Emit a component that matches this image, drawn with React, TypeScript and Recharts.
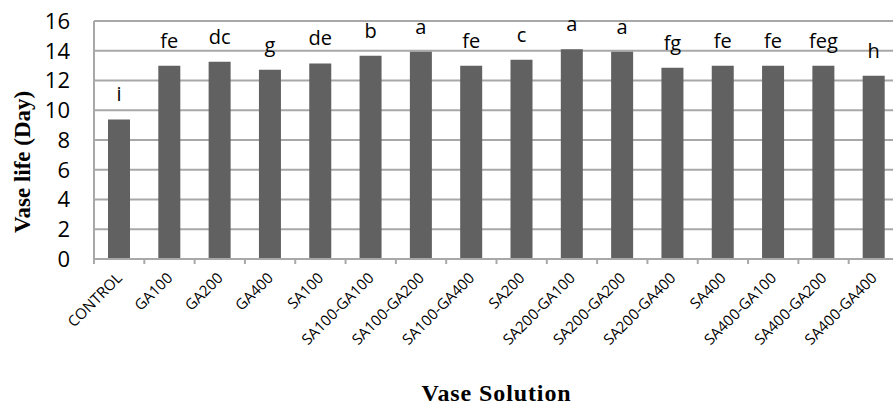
import React from "react";
import {
    Bar,
    BarChart,
    CartesianGrid,
    LabelList,
    XAxis,
    YAxis,
    Label
} from "recharts";

// values
const treatments = [
    "CONTROL", "GA100", "GA200", "GA400", "SA100", "SA100-GA100", "SA100-GA200", "SA100-GA400",
    "SA200", "SA200-GA100", "SA200-GA200", "SA200-GA400", "SA400", "SA400-GA100", "SA400-GA200", "SA400-GA400"
];
const vaseLife = [9.38, 13.0, 13.26, 12.73, 13.15, 13.67, 13.94, 13.0, 13.4, 14.1, 13.94, 12.86, 13.0, 13.0, 13.0, 12.32];
const groups = ["i", "fe", "dc", "g", "de", "b", "a", "fe", "c", "a", "a", "fg", "fe", "fe", "feg", "h"];
const yTicks = [0, 2, 4, 6, 8, 10, 12, 14, 16];

const data = treatments.map((name, i) => ({ name, days: vaseLife[i], group: groups[i] }));

const CHART_W = 905;
const CHART_H = 405;
const PLOT_LEFT = 94;
const PLOT_RIGHT = 899;
const PLOT_TOP = 21;
const PLOT_BOTTOM = 259;
const BAND = (PLOT_RIGHT - PLOT_LEFT) / treatments.length;
const GRID = "#a8a8a8";
const tickFont = "'Open Sans', 'Noto Sans', sans-serif";
const titleFont = "'Liberation Serif', 'Times New Roman', serif";

// category ticks sit on the band edges, labels slanted up to the right
function XTick(props: any) {
    const { x, y, payload, index } = props;
    const ax = x + 4;
    const ay = y + 20;
    return (
        <g>
            <line x1={x - BAND / 2} y1={y} x2={x - BAND / 2} y2={y + 5} stroke={GRID} strokeWidth={2} />
            {index === treatments.length - 1 && (
                <line x1={x + BAND / 2} y1={y} x2={x + BAND / 2} y2={y + 5} stroke={GRID} strokeWidth={2} />
            )}
            <text
                x={ax}
                y={ay}
                transform={`rotate(-45 ${ax} ${ay})`}
                textAnchor="end"
                fontFamily={tickFont}
                fontSize={15}
                fill="#000"
            >
                {payload.value}
            </text>
        </g>
    );
}

// title starts just above the "2" gridline and runs upward
const YTitle = () => {
    const sy = PLOT_BOTTOM - 26;
    return (
        <text
            x={30}
            y={sy}
            transform={`rotate(-90, 30, ${sy})`}
            textAnchor="start"
            fontFamily={titleFont}
            fontWeight="bold"
            fontSize={23}
            fill="#000"
        >
            Vase life (Day)
        </text>
    );
};

export default function App() {
    return (
        <div style={{ position: "fixed", top: 0, left: 0, width: 893, height: 405, overflow: "hidden", background: "#fff" }}>
            <BarChart
                width={CHART_W}
                height={CHART_H}
                data={data}
                margin={{ top: PLOT_TOP, right: CHART_W - PLOT_RIGHT, bottom: 0, left: 0 }}
                barSize={22}
            >
                <CartesianGrid vertical={false} stroke={GRID} strokeWidth={2} />
                <XAxis
                    dataKey="name"
                    interval={0}
                    height={CHART_H - PLOT_BOTTOM}
                    tickSize={0}
                    tickMargin={0}
                    tickLine={false}
                    axisLine={{ stroke: GRID, strokeWidth: 2 }}
                    tick={(p: any) => <XTick {...p} />}
                >
                    <Label
                        value="Vase Solution"
                        position="insideBottom"
                        offset={4}
                        fontFamily={titleFont}
                        fontWeight="bold"
                        fontSize={24}
                        letterSpacing={0.9}
                        fill="#000"
                    />
                </XAxis>
                <YAxis
                    width={PLOT_LEFT}
                    domain={[0, 16]}
                    ticks={yTicks}
                    interval={0}
                    tickLine={false}
                    tickSize={0}
                    tickMargin={24}
                    axisLine={{ stroke: GRID, strokeWidth: 2 }}
                    tick={{ fontFamily: tickFont, fontSize: 22, fill: "#000" }}
                    label={<YTitle />}
                />
                <Bar dataKey="days" fill="#616161" isAnimationActive={false}>
                    <LabelList
                        dataKey="group"
                        position="top"
                        offset={18}
                        fontFamily={tickFont}
                        fontSize={20}
                        fill="#000"
                    />
                </Bar>
            </BarChart>
        </div>
    );
}
